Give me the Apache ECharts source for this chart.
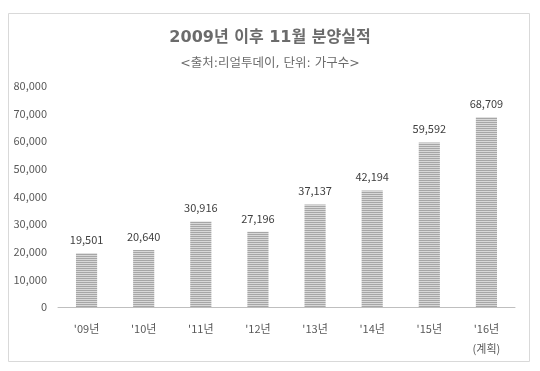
<!DOCTYPE html>
<html><head><meta charset="utf-8">
<script src="https://cdn.jsdelivr.net/npm/echarts@6/dist/echarts.min.js"></script>
<style>html,body{margin:0;padding:0;background:#fff}#c{width:540px;height:371px}</style>
</head><body><div id="c"></div>
<script>
const categories = ["'09년", "'10년", "'11년", "'12년", "'13년", "'14년", "'15년", "'16년\n(계획)"];
const values = [19501, 20640, 30916, 27196, 37137, 42194, 59592, 68709];
const yTicks = [0, 10000, 20000, 30000, 40000, 50000, 60000, 70000, 80000];

const cv = document.createElement('canvas');
cv.width = 4; cv.height = 2;
const cx = cv.getContext('2d');
cx.fillStyle = '#d8d8d8'; cx.fillRect(0,0,4,2);
cx.fillStyle = '#a6a6a6'; cx.fillRect(0,0,4,1);

const font = '"Malgun Gothic","Noto Sans CJK KR",sans-serif';
const titleFont = '"DejaVu Sans","Noto Sans CJK KR",sans-serif';
const chart = echarts.init(document.getElementById('c'), null, {renderer:'canvas'});
chart.setOption({
  backgroundColor: '#fff',
  animation: false,
  title: {
    text: '2009년 이후 11월 분양실적',
    subtext: '<출처:리얼투데이, 단위: 가구수>',
    left: 'center', top: 25, itemGap: 11,
    textStyle: {fontFamily: titleFont, fontSize: 16, fontWeight: 'bold', color: '#6b6b6b'},
    subtextStyle: {fontFamily: titleFont, fontSize: 12.5, color: '#6b6b6b'}
  },
  graphic: [{type:'rect', shape:{x:8.5,y:13.5,width:521,height:348}, style:{fill:null, stroke:'#d9d9d9', lineWidth:1}, silent:true}],
  grid: {left: 58, right: 25, top: 86, bottom: 64},
  xAxis: {
    type: 'category', data: categories,
    axisLine: {lineStyle: {color: '#bfbfbf', width: 1}},
    axisTick: {show: false},
    axisLabel: {fontFamily: font, fontSize: 11, color: '#595959', margin: 12, lineHeight: 20}
  },
  yAxis: {
    type: 'value', min: yTicks[0], max: yTicks[yTicks.length-1], interval: 10000,
    axisLine: {show: false}, axisTick: {show: false},
    splitLine: {show: false},
    axisLabel: {fontFamily: font, fontSize: 11, color: '#595959', margin: 11,
      formatter: v => v.toLocaleString('en-US')}
  },
  series: [{
    type: 'bar', data: values, barWidth: '37%',
    itemStyle: {color: {image: cv, repeat: 'repeat'}},
    label: {show: true, position: 'top', distance: 8, fontFamily: font, fontSize: 11, color: '#404040',
      formatter: p => p.value.toLocaleString('en-US')}
  }]
});
</script></body></html>
